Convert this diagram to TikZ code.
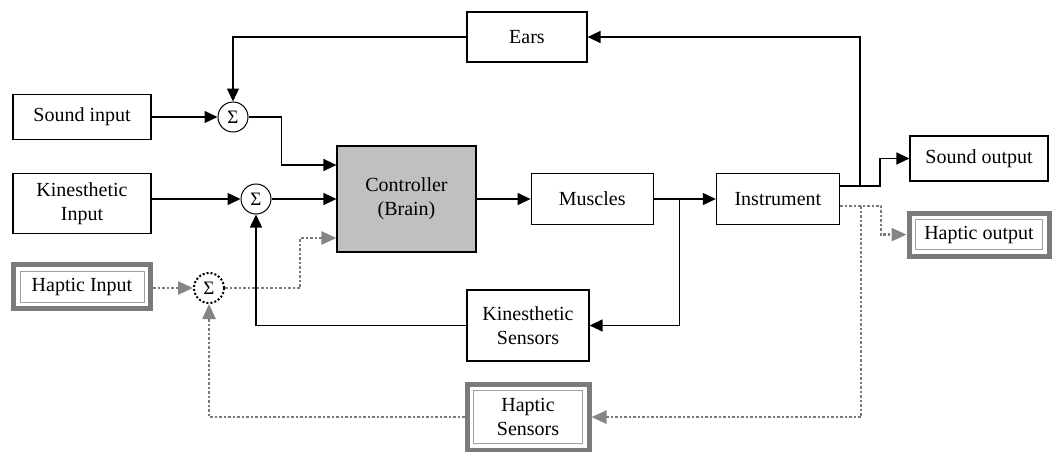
\documentclass[tikz,border=0pt]{standalone}
\usepackage{fontspec}
\setmainfont{Liberation Serif}
\usetikzlibrary{arrows.meta,positioning}

\definecolor{brainfill}{HTML}{C0C0C0}
\definecolor{hapgray}{HTML}{7A7A7A}
\definecolor{hapline}{HTML}{A0A0A0}
\definecolor{haptip}{HTML}{858585}

\begin{document}
\begin{tikzpicture}[x=1pt,y=1pt,>={Triangle[length=13pt,width=12pt]}]
    \tikzset{block/.style={
      draw,
      rectangle,
      line width=1.2pt,
      align=center,
      inner sep=0pt,
      font=\fontsize{20}{24}\selectfont,
      minimum width=122pt,
      minimum height=51pt
    }};
    \tikzset{hapblock/.style={
      block,
      draw=hapgray,
      line width=5pt
    }};
    \tikzset{sumnode/.style={
      draw,
      circle,
      line width=1pt,
      inner sep=0pt,
      minimum size=30pt,
      font=\fontsize{19}{19}\selectfont
    }};
    \tikzset{sig/.style={line width=1.3pt}};
    \tikzset{hap/.style={draw=hapgray, line width=2.5pt, dash pattern=on 2.5pt off 2pt,
      -{Triangle[length=15pt,width=13pt,color=haptip]}}};

    \useasboundingbox (0,0) rectangle (1054,-452);

    \node [block, fill=brainfill, minimum width=139pt, minimum height=106pt] (brain) at (406.5,-199) {Controller\\(Brain)};
    \node [block, right=54pt of brain] (muscles) {Muscles};
    \node [block, right=62pt of muscles, minimum width=123pt] (instrument) {Instrument};
    \node [block, minimum width=120pt, minimum height=50pt] (ears) at (527,-37) {Ears};

    \node [block, minimum width=138pt, minimum height=45pt] (soundin) at (82,-117) {Sound input};
    \node [block, below=33pt of soundin, minimum width=138pt, minimum height=60pt] (kinin) {Kinesthetic\\Input};
    \node [hapblock, below=28pt of kinin, minimum width=137pt, minimum height=44pt] (hapin) {Haptic Input};

    \node [block, minimum width=138pt, minimum height=45pt] (soundout) at (979,-158.5) {Sound output};
    \node [hapblock, below=29pt of soundout, minimum width=140pt, minimum height=43pt] (hapout) {Haptic output};

    \node [block, minimum height=71pt] (kinsens) at (528,-325.5) {Kinesthetic\\Sensors};
    \node [hapblock, below=20pt of kinsens, minimum width=122pt, minimum height=66pt] (hapsens) {Haptic\\Sensors};

    \node [sumnode] (sumsound) at (233,-117) {Σ};
    \node [sumnode] (sumkin) at (256,-199) {Σ};
    \node [sumnode, line width=2pt, dash pattern=on 2pt off 2pt] (sumhap) at (209,-288) {Σ};

    % thin inner frame of the haptic boxes
    \foreach \n in {hapin,hapout,hapsens}
      \draw[hapline, line width=1pt] ([shift={(9pt,-9pt)}]\n.north west) rectangle ([shift={(-9pt,9pt)}]\n.south east);

    \coordinate [right=26pt of muscles] (mbranch);

    \path[draw,->,sig] (soundin) -- (sumsound);
    \path[draw,->,sig] (ears.west) -| (sumsound.north);
    \path[draw,->,sig] (sumsound.east) -- ++(33pt,0) |- ([yshift=34pt]brain.west);
    \path[draw,->,sig] (kinin.east |- sumkin) -- (sumkin);
    \path[draw,->,sig] (sumkin) -- (brain);
    \path[draw,->,sig] (brain) -- (muscles);
    \path[draw,->,sig] (muscles) -- (instrument);
    \path[draw,->,sig] (mbranch) |- (kinsens.east);
    \path[draw,->,sig] (kinsens.west) -| (sumkin.south);
    \path[draw,->,sig] ([yshift=13pt]instrument.east) -- ++(40pt,0) |- (soundout.west);
    \path[draw,->,sig] ([xshift=20pt,yshift=13pt]instrument.east) |- (ears.east);

    \path[draw,->,hap] (hapin.east |- sumhap) -- (sumhap);
    \path[draw,->,hap] (sumhap.east) -- ++(75pt,0) |- ([yshift=-39pt]brain.west);
    \path[draw,->,hap] ([yshift=-7pt]instrument.east) -- ++(41pt,0) |- (hapout.west);
    \path[draw,->,hap] ([xshift=21pt,yshift=-7pt]instrument.east) |- (hapsens.east);
    \path[draw,->,hap] (hapsens.west) -| (sumhap.south);

  \end{tikzpicture}
\end{document}
